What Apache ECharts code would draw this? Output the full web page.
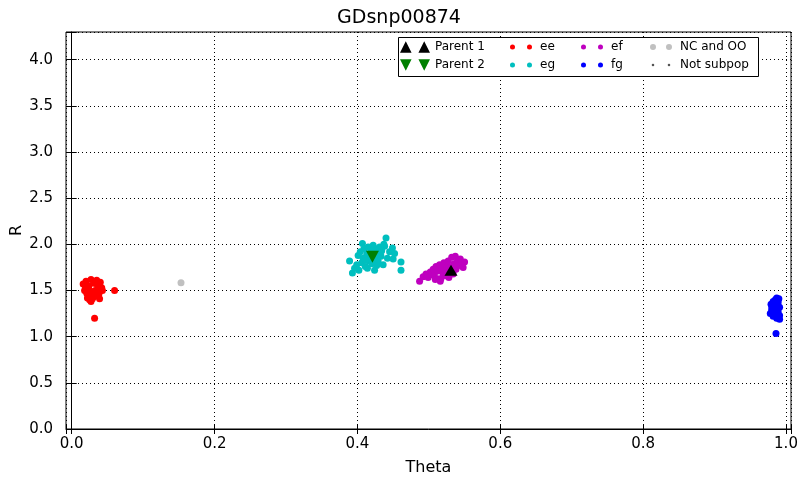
<!DOCTYPE html>
<html><head><meta charset="utf-8">
<script src="https://cdn.jsdelivr.net/npm/echarts@6/dist/echarts.min.js"></script>
<style>html,body{margin:0;padding:0;background:#fff}#c{width:798px;height:478px}</style>
</head><body><div id="c"></div><script>
const chartTitle = 'GDsnp00874';
const xName = 'Theta';
const yName = 'R';
const xTicks = [0.0, 0.2, 0.4, 0.6, 0.8, 1.0];
const yTicks = [0.0, 0.5, 1.0, 1.5, 2.0, 2.5, 3.0, 3.5, 4.0];
const seriesNames = ['Parent 1', 'Parent 2', 'ee', 'eg', 'ef', 'fg', 'NC and OO', 'Not subpop'];

const parent1 = [[0.531, 1.72]];
const parent2 = [[0.421, 1.865]];
const ee = [
  [0.016,1.57],[0.020,1.60],[0.024,1.55],[0.027,1.62],[0.031,1.58],[0.035,1.61],[0.040,1.59],
  [0.018,1.50],[0.021,1.47],[0.023,1.52],[0.026,1.45],[0.028,1.49],[0.030,1.43],[0.033,1.50],
  [0.037,1.52],[0.042,1.53],[0.022,1.42],[0.025,1.40],[0.029,1.41],[0.034,1.44],[0.038,1.46],
  [0.043,1.50],[0.019,1.55],[0.036,1.56],[0.060,1.50],[0.032,1.20],[0.024,1.47],[0.031,1.47],
  [0.027,1.38],[0.039,1.41]
];
const eg = [
  [0.389,1.82],[0.393,1.69],[0.396,1.74],[0.399,1.78],[0.401,1.88],[0.404,1.92],[0.406,1.80],
  [0.408,1.85],[0.409,1.95],[0.407,2.01],[0.411,1.76],[0.413,1.89],[0.415,1.97],[0.416,1.82],
  [0.418,1.86],[0.419,1.93],[0.420,1.79],[0.422,1.99],[0.423,1.88],[0.425,1.84],[0.426,1.95],
  [0.428,1.90],[0.429,1.82],[0.431,1.97],[0.433,1.87],[0.434,1.93],[0.436,1.78],[0.438,1.98],
  [0.440,2.07],[0.442,1.85],[0.445,1.92],[0.449,1.96],[0.452,1.90],[0.450,1.84],[0.461,1.81],
  [0.461,1.72],[0.402,1.72],[0.414,1.74],[0.424,1.72],[0.417,1.90],[0.411,1.83],[0.432,1.91],
  [0.437,2.00],[0.427,1.77]
];
const ef = [
  [0.487,1.60],[0.492,1.65],[0.496,1.68],[0.499,1.64],[0.502,1.70],[0.504,1.67],[0.506,1.73],
  [0.508,1.69],[0.510,1.76],[0.511,1.63],[0.513,1.71],[0.515,1.78],[0.516,1.60],[0.518,1.74],
  [0.520,1.68],[0.521,1.80],[0.523,1.72],[0.524,1.66],[0.526,1.77],[0.527,1.82],[0.529,1.70],
  [0.530,1.75],[0.532,1.86],[0.534,1.68],[0.535,1.79],[0.537,1.87],[0.538,1.73],[0.540,1.82],
  [0.542,1.77],[0.544,1.84],[0.546,1.80],[0.548,1.75],[0.550,1.81],[0.517,1.63],[0.528,1.64],
  [0.509,1.62]
];
const fg = [
  [0.979,1.35],[0.982,1.38],[0.985,1.40],[0.987,1.42],[0.990,1.41],[0.989,1.37],[0.983,1.33],
  [0.986,1.30],[0.991,1.32],[0.980,1.28],[0.984,1.25],[0.989,1.27],[0.991,1.23],[0.978,1.25],
  [0.982,1.22],[0.987,1.20],[0.991,1.19],[0.986,1.035],[0.980,1.31],[0.988,1.29]
];
const ncOO = [[0.153, 1.585]];
const notSubpop = [];

const FONT = 'DejaVu Sans';
function isTick(v, list){ return list.some(t => Math.abs(t - v) < 1e-6); }
// two round dots of radius r whose centres are `gap` apart; `box` forces a fixed bounding box
function dots(r, gap, boxW, boxH){
  const cy = boxH ? boxH / 2 : r;
  const off = boxW ? (boxW - (2 * r + gap)) / 2 : 0;
  const c1 = off + r, c2 = off + r + gap;
  const circ = cx => `M${cx - r},${cy}a${r},${r} 0 1,0 ${2*r},0a${r},${r} 0 1,0 ${-2*r},0Z`;
  let p = 'path://';
  if (boxW) p += `M0,0L0.001,0 M${boxW},${boxH}L${boxW - 0.001},${boxH} `;
  return p + circ(c1) + ' ' + circ(c2);
}
const triUp = 'path://M0,11L5.5,0L11,11Z M17.5,11L23,0L28.5,11Z';
const triDown = 'path://M0,0L5.5,11L11,0Z M17.5,0L23,11L28.5,0Z';

const chart = echarts.init(document.getElementById('c'), null, {renderer: 'canvas'});
const tickAxisCommon = {
  axisTick: {show: true, inside: true, length: 5, lineStyle: {color: '#000', width: 1}},
  axisLabel: {show: false}, axisLine: {show: false}, splitLine: {show: false}
};
const legendCommon = {
  orient: 'vertical', padding: 0, itemGap: 6, selectedMode: false, z: 60,
  symbolKeepAspect: true,
  textStyle: {fontFamily: FONT, fontSize: 12, color: '#000', lineHeight: 12},
  itemStyle: {borderWidth: 0}
};
function scatter(name, data, color, extra){
  return Object.assign({
    type: 'scatter', name, data, symbol: 'circle', symbolSize: 7,
    itemStyle: {color, opacity: 1}, emphasis: {disabled: true}, z: 3
  }, extra || {});
}
chart.setOption({
  animation: false,
  backgroundColor: '#fff',
  title: {text: chartTitle, left: 'center', top: 9, padding: 0,
    textStyle: {fontFamily: FONT, fontSize: 19, fontWeight: 'normal', color: '#000'}},
  grid: {left: 66, right: 7, top: 32, bottom: 49, show: true, borderColor: '#000', borderWidth: 1,
    backgroundColor: 'transparent', containLabel: false, outerBoundsMode: 'none'},
  xAxis: [{
    type: 'value', min: -0.008, max: 1.007, splitNumber: 5, position: 'bottom',
    name: xName, nameLocation: 'middle', nameGap: 31, nameMoveOverlap: false,
    nameTextStyle: {fontFamily: FONT, fontSize: 16, color: '#000'},
    axisLine: {show: true, lineStyle: {color: '#000', width: 1}},
    axisTick: {show: true, inside: true, length: 5, lineStyle: {color: '#000'}},
    axisLabel: {fontFamily: FONT, fontSize: 15, color: '#000', margin: 8, showMinLabel: true, showMaxLabel: true,
      formatter: v => isTick(v, xTicks) ? v.toFixed(1) : ''},
    splitLine: {show: true, lineStyle: {color: '#000', width: 1, type: [1, 3]}}
  }, Object.assign({type: 'value', min: -0.008, max: 1.007, splitNumber: 5, position: 'top'}, tickAxisCommon)],
  yAxis: [{
    type: 'value', min: 0, max: 4.3, interval: 0.5, position: 'left',
    name: yName, nameLocation: 'middle', nameGap: 41, nameRotate: 90, nameMoveOverlap: false,
    nameTextStyle: {fontFamily: FONT, fontSize: 16, color: '#000'},
    axisLine: {show: true, lineStyle: {color: '#000', width: 1}},
    axisTick: {show: true, inside: true, length: 5, lineStyle: {color: '#000'}},
    axisLabel: {fontFamily: FONT, fontSize: 15, color: '#000', margin: 13, showMaxLabel: true,
      formatter: v => isTick(v, yTicks) ? v.toFixed(1) : ''},
    splitLine: {show: true, lineStyle: {color: '#000', width: 1, type: [1, 3]}}
  }, Object.assign({type: 'value', min: 0, max: 4.3, interval: 0.5, position: 'right'}, tickAxisCommon)],
  graphic: [{
    type: 'rect', z: 50, silent: true,
    shape: {x: 398.5, y: 37.5, width: 360, height: 39},
    style: {fill: '#fff', stroke: '#000', lineWidth: 1}
  }],
  legend: [
    Object.assign({left: 400, top: 41, itemWidth: 30, itemHeight: 12,
      data: [{name: seriesNames[0], icon: triUp}, {name: seriesNames[1], icon: triDown}]}, legendCommon),
    Object.assign({left: 510, top: 41, itemWidth: 28, itemHeight: 5,
      data: [{name: seriesNames[2], icon: dots(2.5, 17)}, {name: seriesNames[3], icon: dots(2.5, 17)}]}, legendCommon),
    Object.assign({left: 581, top: 41, itemWidth: 28, itemHeight: 5,
      data: [{name: seriesNames[4], icon: dots(2.5, 17)}, {name: seriesNames[5], icon: dots(2.5, 17)}]}, legendCommon),
    Object.assign({left: 650, top: 41, itemWidth: 28, itemHeight: 6,
      data: [{name: seriesNames[6], icon: dots(3, 16)}, {name: seriesNames[7], icon: dots(1.3, 16, 22, 6)}]}, legendCommon)
  ],
  series: [
    scatter(seriesNames[2], ee, '#ff0000'),
    scatter(seriesNames[3], eg, '#00bfbf'),
    scatter(seriesNames[4], ef, '#bf00bf'),
    scatter(seriesNames[5], fg, '#0000ff'),
    scatter(seriesNames[6], ncOO, '#c0c0c0'),
    scatter(seriesNames[7], notSubpop, '#555555', {symbolSize: 3}),
    scatter(seriesNames[0], parent1, '#000000', {symbol: 'triangle', symbolSize: [13, 11], z: 5}),
    scatter(seriesNames[1], parent2, '#008000', {symbol: 'triangle', symbolSize: [13, 12], symbolRotate: 180, z: 5})
  ]
});
</script></body></html>
